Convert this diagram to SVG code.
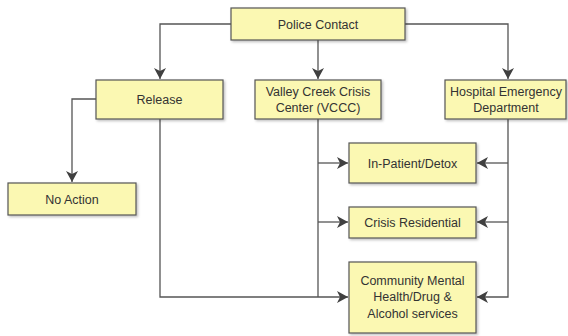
<svg xmlns="http://www.w3.org/2000/svg" width="568" height="336" viewBox="0 0 568 336">
  <defs>
    <marker id="arrow" viewBox="0 0 11 12" refX="11" refY="6" markerWidth="11" markerHeight="12" markerUnits="userSpaceOnUse" orient="auto">
      <path d="M0,0 L11,6 L0,12 L3,6 Z" fill="#404040"/>
    </marker>
    <filter id="shadow" x="-5%" y="-5%" width="112%" height="125%">
      <feDropShadow dx="1.5" dy="1.5" stdDeviation="1" flood-color="#000" flood-opacity="0.25"/>
    </filter>
  </defs>
  <style>
    .box { fill: #FBF8B2; stroke: #555555; stroke-width: 1.2; filter: url(#shadow); }
    .label { font-family: "Liberation Sans", Arial, sans-serif; font-size: 12.5px; fill: #333333; text-anchor: middle; }
    .link { fill: none; stroke: #555555; stroke-width: 1.3; }
  </style>
  <rect width="568" height="336" fill="#ffffff"/>

  <g id="connectors">
    <path class="link" d="M231,24 H160 V79" marker-end="url(#arrow)"/>
    <path class="link" d="M318,40 V79" marker-end="url(#arrow)"/>
    <path class="link" d="M405,24 H508 V79" marker-end="url(#arrow)"/>
    <path class="link" d="M96,99 H72 V182" marker-end="url(#arrow)"/>
    <path class="link" d="M160,119 V297 H348" marker-end="url(#arrow)"/>
    <path class="link" d="M318,119 V297"/>
    <path class="link" d="M318,163 H348" marker-end="url(#arrow)"/>
    <path class="link" d="M318,222 H348" marker-end="url(#arrow)"/>
    <path class="link" d="M508,119 V297 H477" marker-end="url(#arrow)"/>
    <path class="link" d="M508,163 H477" marker-end="url(#arrow)"/>
    <path class="link" d="M508,222 H477" marker-end="url(#arrow)"/>
  </g>

  <g id="police-contact">
    <rect class="box" x="231" y="8" width="174" height="32"/>
    <text class="label" x="318" y="28.5">Police Contact</text>
  </g>
  <g id="release">
    <rect class="box" x="96" y="80" width="127" height="39"/>
    <text class="label" x="159.5" y="104">Release</text>
  </g>
  <g id="vccc">
    <rect class="box" x="255" y="80" width="126" height="39"/>
    <text class="label" x="318" y="96">Valley Creek Crisis</text>
    <text class="label" x="318" y="112">Center (VCCC)</text>
  </g>
  <g id="hospital">
    <rect class="box" x="445" y="80" width="121" height="39"/>
    <text class="label" x="506" y="96">Hospital Emergency</text>
    <text class="label" x="506" y="112">Department</text>
  </g>
  <g id="no-action">
    <rect class="box" x="8" y="183" width="128" height="32"/>
    <text class="label" x="72" y="203.5">No Action</text>
  </g>
  <g id="inpatient-detox">
    <rect class="box" x="349" y="143" width="127" height="40"/>
    <text class="label" x="412.5" y="167.5">In-Patient/Detox</text>
  </g>
  <g id="crisis-residential">
    <rect class="box" x="349" y="207" width="127" height="31"/>
    <text class="label" x="412.5" y="226.5">Crisis Residential</text>
  </g>
  <g id="community-services">
    <rect class="box" x="349" y="262" width="127" height="71"/>
    <text class="label" x="412.5" y="285">Community Mental</text>
    <text class="label" x="412.5" y="301">Health/Drug &amp;</text>
    <text class="label" x="412.5" y="318">Alcohol services</text>
  </g>
</svg>
